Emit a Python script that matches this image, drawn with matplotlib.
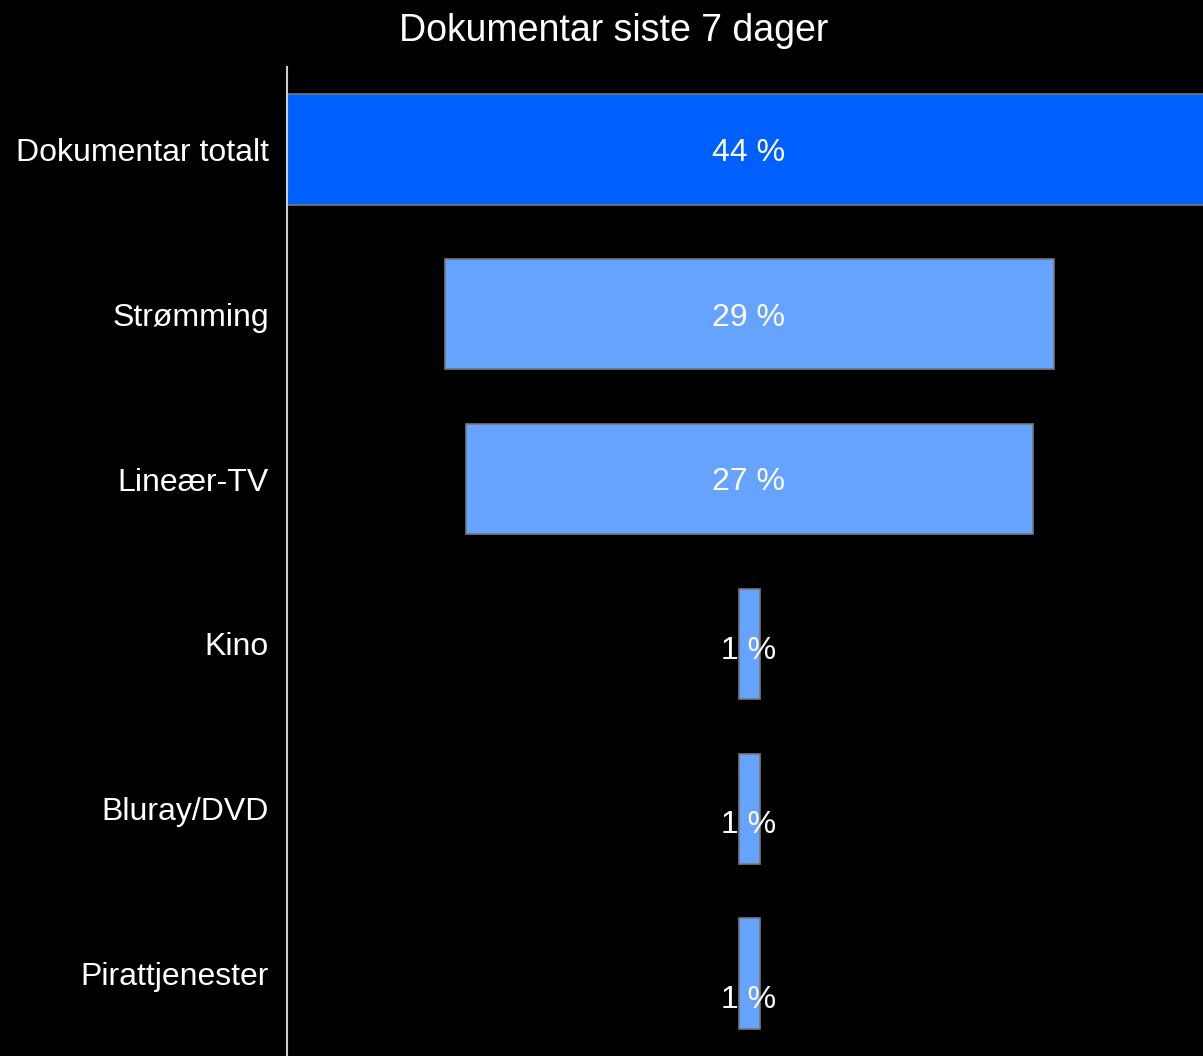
import matplotlib.pyplot as plt

# Data
categories = ['Dokumentar totalt', 'Strømming', 'Lineær-TV', 'Kino', 'Bluray/DVD', 'Pirattjenester']
values = [44, 29, 27, 1, 1, 1]
labels = ['44 %', '29 %', '27 %', '1 %', '1 %', '1 %']
colors = ['#005fff', '#66a3ff', '#66a3ff', '#66a3ff', '#66a3ff', '#66a3ff']
# small downward nudge of the value labels, as in the original
label_nudge = [0.02, 0.02, 0.02, 0.04, 0.10, 0.16]

plt.rcParams['font.family'] = ['Liberation Sans', 'DejaVu Sans']

fig = plt.figure(figsize=(12.03, 10.56), dpi=100, facecolor='black')
# top bar runs a bit past the right edge in the original
ax = fig.add_axes([287 / 1203, 0, 924 / 1203, 989 / 1056])
ax.set_facecolor('black')

vmax = max(values)
pos = list(range(len(categories)))
lefts = [(vmax - v) / 2 for v in values]
ax.barh(pos, values, left=lefts, height=0.67, color=colors,
        edgecolor='#777777', linewidth=1.2)

for i, (v, lab) in enumerate(zip(values, labels)):
    ax.text(vmax / 2, i + label_nudge[i], lab, color='white', fontsize=23,
            ha='center', va='center')

ax.set_xlim(0, vmax)
ax.set_ylim(len(categories) - 0.5, -0.5)
ax.set_yticks(pos)
ax.set_yticklabels(categories, color='white', fontsize=23)
ax.tick_params(axis='y', length=0, pad=13)
ax.set_xticks([])
for s in ['top', 'right', 'bottom']:
    ax.spines[s].set_visible(False)
ax.spines['left'].set_color('#cccccc')
ax.spines['left'].set_linewidth(1.5)

fig.text(614 / 1203, 1 - 31 / 1056, 'Dokumentar siste 7 dager', color='white',
         fontsize=27, ha='center', va='center')

fig.savefig('out.png', dpi=100, facecolor='black')
